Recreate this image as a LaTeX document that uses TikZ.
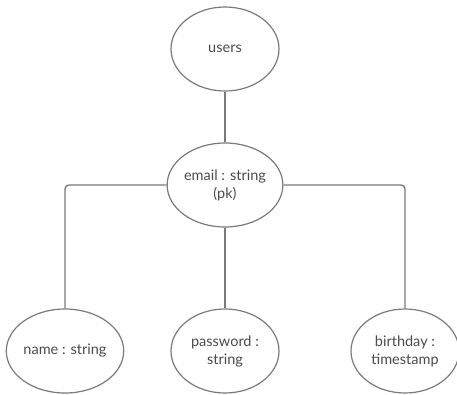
\documentclass[tikz,border=0pt]{standalone}
\usepackage{fontspec}
\setmainfont{Lato}
\usetikzlibrary{shapes.geometric}
\definecolor{trait}{HTML}{7A7A7A}
\definecolor{texte}{HTML}{4A4A4A}

\begin{document}
\begin{tikzpicture}[x=1pt,y=-1pt,
  entite/.style={ellipse,draw=trait,line width=1.2pt,text=texte,
    minimum width=108pt,minimum height=84pt,inner sep=0pt,
    align=center,font=\fontsize{14.5}{18}\selectfont},
  lien/.style={draw=trait,line width=1.4pt,rounded corners=4pt}]

\useasboundingbox (0,0) rectangle (457,394);

% Table
\node[entite] (users) at (225,49) {users};

% Cle primaire
\node[entite] (email) at (225,185) {email : string\\(pk)};

% Attributs
\node[entite] (name) at (65,351) {name : string};
\node[entite] (password) at (225,351) {password :\\string};
\node[entite] (birthday) at (405,351) {birthday :\\timestamp};

% Liens
\draw[lien] (users) -- (email);
\draw[lien] (email.west) -| (name.north);
\draw[lien] (email) -- (password);
\draw[lien] (email.east) -| (birthday.north);

\end{tikzpicture}
\end{document}
